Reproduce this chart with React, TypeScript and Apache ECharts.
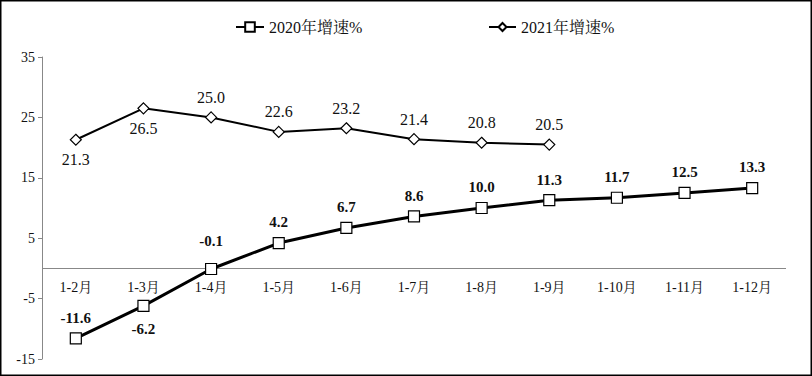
import React, { useEffect, useRef } from "react";
import * as echarts from "echarts";

const categories = ["1-2月", "1-3月", "1-4月", "1-5月", "1-6月", "1-7月", "1-8月", "1-9月", "1-10月", "1-11月", "1-12月"];
const growth2020 = [-11.6, -6.2, -0.1, 4.2, 6.7, 8.6, 10.0, 11.3, 11.7, 12.5, 13.3];
const growth2021: (number | null)[] = [21.3, 26.5, 25.0, 22.6, 23.2, 21.4, 20.8, 20.5, null, null, null];
const labelBelow2020 = [false, true, false, false, false, false, false, false, false, false, false];
const labelBelow2021 = [true, true, false, false, false, false, false, false];
const name2020 = "2020年增速%";
const name2021 = "2021年增速%";
const Y_MIN = -15;
const Y_MAX = 35;

const FONT = "'Liberation Serif', 'Noto Serif CJK SC', 'Noto Sans CJK SC', serif";
const GRID_TOP = 57;
const GRID_BOTTOM = 17;
const H = 376;

export default function App() {
  const ref = useRef<HTMLDivElement>(null);
  useEffect(() => {
    if (!ref.current) return;
    const chart = echarts.init(ref.current, null, { renderer: "svg" });
    const gridH = H - GRID_TOP - GRID_BOTTOM;
    const zeroOffset = -(gridH * (0 - Y_MIN)) / (Y_MAX - Y_MIN);
    chart.setOption({
      animation: false,
      backgroundColor: "#fff",
      textStyle: { fontFamily: FONT },
      graphic: [
        {
          type: "rect",
          shape: { x: 0.75, y: 0.75, width: 810.5, height: 374.5 },
          style: { fill: "none", stroke: "#000", lineWidth: 1.5 },
          silent: true,
        },
      ],
      legend: [
        {
          left: 230,
          top: 14,
          itemWidth: 28,
          itemHeight: 12,
          itemGap: 5,
          data: [name2020],
          textStyle: { fontFamily: FONT, fontSize: 16, color: "#111" },
        },
        {
          left: 483,
          top: 14,
          itemWidth: 27,
          itemHeight: 10,
          itemGap: 5,
          data: [name2021],
          textStyle: { fontFamily: FONT, fontSize: 16, color: "#111" },
        },
      ],
      grid: {
        left: 42,
        right: 26,
        top: GRID_TOP,
        bottom: GRID_BOTTOM,
        containLabel: false,
        outerBoundsMode: "none",
      },
      xAxis: {
        type: "category",
        data: categories,
        boundaryGap: true,
        offset: zeroOffset,
        axisLine: { show: false, onZero: false },
        axisTick: { show: false },
        axisLabel: { margin: 12, fontSize: 14, color: "#111", fontFamily: FONT },
        splitLine: { show: false },
      },
      yAxis: {
        type: "value",
        min: Y_MIN,
        max: Y_MAX,
        interval: 10,
        axisLine: { show: true, lineStyle: { color: "#888", width: 1 } },
        axisTick: { show: true, length: 4, lineStyle: { color: "#888" } },
        axisLabel: { margin: 7, fontSize: 14, color: "#111", fontFamily: FONT },
        splitLine: { show: false },
      },
      series: [
        {
          name: name2020,
          type: "line",
          data: growth2020.map((v, i) => {
            if (labelBelow2020[i]) return { value: v, label: { position: "bottom", distance: 10 } };
            if (i === 2) return { value: v, label: { distance: 14 } };
            return { value: v };
          }),
          symbol: "rect",
          symbolSize: 11,
          lineStyle: { color: "#000", width: 3 },
          itemStyle: { color: "#fff", borderColor: "#000", borderWidth: 1.2 },
          label: {
            show: true,
            position: "top",
            distance: 7,
            fontSize: 15,
            fontWeight: "bold",
            color: "#111",
            fontFamily: FONT,
            formatter: (p: any) => Number(p.value).toFixed(1),
          },
          markLine: {
            silent: true,
            symbol: "none",
            label: { show: false },
            lineStyle: { color: "#888", width: 1, type: "solid" },
            data: [{ yAxis: 0 }],
            z: 1,
          },
          z: 3,
        },
        {
          name: name2021,
          type: "line",
          data: growth2021.map((v, i) =>
            v === null
              ? null
              : { value: v, label: { position: labelBelow2021[i] ? "bottom" : "top" } }
          ),
          symbol: "diamond",
          symbolSize: 11,
          lineStyle: { color: "#000", width: 2 },
          itemStyle: { color: "#fff", borderColor: "#000", borderWidth: 1.2 },
          label: {
            show: true,
            position: "top",
            distance: 6,
            fontSize: 16,
            color: "#111",
            fontFamily: FONT,
            formatter: (p: any) => Number(p.value).toFixed(1),
          },
          z: 2,
        },
      ],
    });
    return () => chart.dispose();
  }, []);
  return (
    <div
      ref={ref}
      style={{ position: "fixed", left: 0, top: 0, width: 812, height: 376 }}
    />
  );
}
